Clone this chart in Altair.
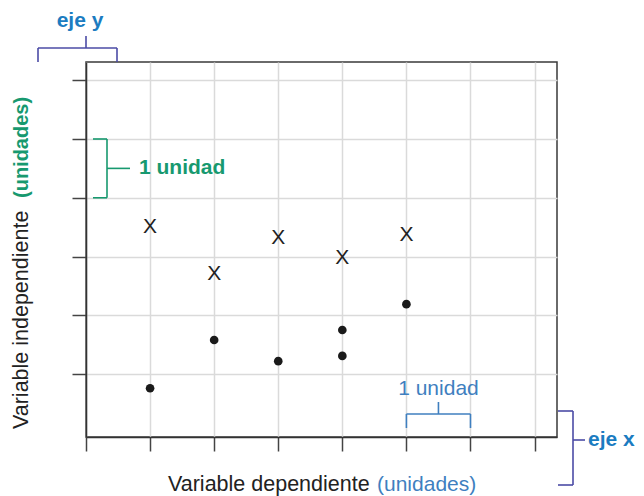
import altair as alt
import pandas as pd

# ---- data ----
cross_x = [1, 2, 3, 4, 5]
cross_y = [3.50, 2.70, 3.31, 2.98, 3.37]
dot_x = [1, 2, 3, 4, 4, 5]
dot_y = [0.76, 1.58, 1.22, 1.75, 1.31, 2.19]
x_ticks = [0, 1, 2, 3, 4, 5, 6, 7]
y_ticks = [1, 2, 3, 4, 5, 6]
x_domain = [0, 7.35]
y_domain = [-0.07, 6.31]

FONT = "Liberation Sans"
BLACK = "#222222"
GREEN = "#17996f"
BLUE_BOLD = "#1b7cc1"
BLUE = "#3f7fbf"
PURPLE = "#4b4ba6"
FS = 21

xs = alt.Scale(domain=x_domain, nice=False, zero=False)
ys = alt.Scale(domain=y_domain, nice=False, zero=False)
axis_common = dict(labels=False, title=None, tickSize=14, tickColor="#444444",
                   tickWidth=1.5, domainColor="#333333", domainWidth=1.5,
                   grid=True, gridColor="#dadada", gridWidth=1.5)
xaxis = alt.Axis(values=x_ticks, **axis_common)
yaxis = alt.Axis(values=y_ticks, **axis_common)

cross_df = pd.DataFrame({"x": cross_x, "y": cross_y})
dot_df = pd.DataFrame({"x": dot_x, "y": dot_y})
one = pd.DataFrame({"k": [0]})

crosses = alt.Chart(cross_df).mark_text(
    text="X", font=FONT, fontSize=FS, color=BLACK, align="center", baseline="middle"
).encode(x=alt.X("x:Q", scale=xs, axis=xaxis), y=alt.Y("y:Q", scale=ys, axis=yaxis))

dots = alt.Chart(dot_df).mark_circle(size=75, color="#1a1a1a", opacity=1).encode(
    x=alt.X("x:Q", scale=xs, axis=xaxis), y=alt.Y("y:Q", scale=ys, axis=yaxis))


def enc_x(v):
    return alt.value(v) if not isinstance(v, tuple) else alt.X(datum=v[0], scale=xs, axis=xaxis)


def enc_x2(v):
    return alt.value(v) if not isinstance(v, tuple) else alt.X2(datum=v[0])


def enc_y(v):
    return alt.value(v) if not isinstance(v, tuple) else alt.Y(datum=v[0], scale=ys, axis=yaxis)


def enc_y2(v):
    return alt.value(v) if not isinstance(v, tuple) else alt.Y2(datum=v[0])


def seg(x1, x2, y1, y2, color, w=1.6):
    return alt.Chart(one).mark_rule(color=color, strokeWidth=w).encode(
        x=enc_x(x1), x2=enc_x2(x2), y=enc_y(y1), y2=enc_y2(y2))


def label(txt, x, y, color, bold=False, align="left", baseline="middle", angle=0, size=FS):
    kw = dict(text=txt, font=FONT, fontSize=size, color=color, align=align,
              baseline=baseline, fontWeight="bold" if bold else "normal")
    if angle:
        kw["angle"] = angle
    return alt.Chart(one).mark_text(**kw).encode(x=enc_x(x), y=enc_y(y))


layers = [crosses, dots]

# eje y bracket (above the plot)
layers += [
    seg(-48, 31, -14, -14, PURPLE),
    seg(-48, -48, -14, 0, PURPLE),
    seg(31, 31, -14, 0, PURPLE),
    seg(0, 0, -26, -14, PURPLE),
    label("eje y", -6, -35, BLUE_BOLD, bold=True, align="center", baseline="alphabetic"),
]

# green "1 unidad" bracket on the y axis (spans y = 4..5)
layers += [
    seg(21, 21, (4,), (5,), GREEN),
    seg(7, 21, (5,), (5,), GREEN),
    seg(7, 21, (4,), (4,), GREEN),
    seg(21, 44, (4.5,), (4.5,), GREEN),
    label("1 unidad", 53, (4.5,), GREEN, bold=True),
]

# blue "1 unidad" bracket on the x axis (spans x = 5..6)
layers += [
    seg((5,), (6,), 352, 352, BLUE),
    seg((5,), (5,), 352, 366, BLUE),
    seg((6,), (6,), 352, 366, BLUE),
    seg((5.5,), (5.5,), 340, 352, BLUE),
    label("1 unidad", (5.5,), 333, BLUE, align="center", baseline="alphabetic"),
]

# eje x bracket (right of the plot)
layers += [
    seg(487, 487, 349, 423, PURPLE),
    seg(472, 487, 349, 349, PURPLE),
    seg(472, 487, 423, 423, PURPLE),
    seg(487, 499, 378, 378, PURPLE),
    label("eje x", 502, 378, BLUE_BOLD, bold=True),
]

# axis titles with two colours
layers += [
    label("Variable dependiente", 82, 429, BLACK, baseline="alphabetic", size=21.5),
    label("(unidades)", 291, 429, BLUE, baseline="alphabetic"),
    label("Variable independiente", -64, 367, BLACK, angle=270, size=21.5),
    label("(unidades)", -64, 136, GREEN, bold=True, angle=270, size=20),
]

chart = alt.layer(*layers).properties(
    width=471,
    height=375,
    autosize=alt.AutoSizeParams(type="none"),
    padding={"left": 78, "top": 54, "right": 79, "bottom": 59},
).configure_view(stroke="#3a3a3a", strokeWidth=1.5)

chart.save("out.html", embed_options={"renderer": "svg", "actions": False})
